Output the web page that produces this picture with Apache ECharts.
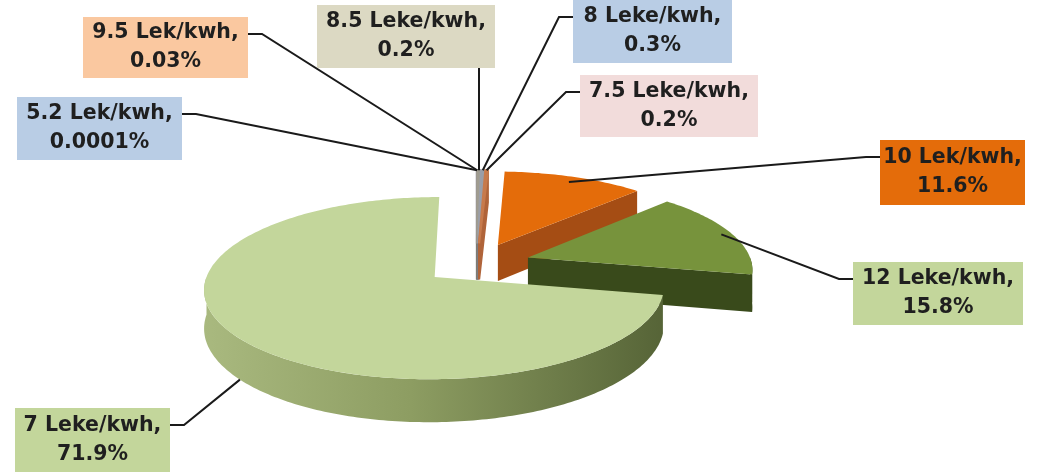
<!DOCTYPE html>
<html>
<head>
<meta charset="utf-8">
<script src="https://cdn.jsdelivr.net/npm/echarts@6/dist/echarts.min.js"></script>
<style>
  html, body { margin: 0; padding: 0; background: #ffffff; }
  #chart { width: 1039px; height: 472px; }
</style>
</head>
<body>
<div id="chart"></div>
<script>
// Electricity tariff bands, listed clockwise from 12 o'clock
const categories = ['5.2 Lek/kwh', '9.5 Lek/kwh', '8.5 Leke/kwh', '8 Leke/kwh', '7.5 Leke/kwh', '10 Lek/kwh', '12 Leke/kwh', '7 Leke/kwh'];
// Share of each band, in percent
const shares = [0.0001, 0.03, 0.2, 0.3, 0.2, 11.6, 15.8, 71.9];

// Slice colours: top face and cut/outer wall
const topColors  = ['#8f96a3', '#9a9690', '#a09c90', '#9a9ea8', '#c77a4c', '#e46c0a', '#77933c', '#c3d69b'];
const sideColors = ['#737985', '#7d7a74', '#7f7c72', '#7b7f89', '#b0643a', '#a54d14', '#394a1b', '#8c9c60'];
// Label box fills
const labelFills = ['#b9cde5', '#fac8a0', '#dcd9c3', '#b9cde5', '#f2dcdb', '#e46c0a', '#c3d69b', '#c3d69b'];

// Label boxes [left, top, width, height], leader side and where the leader meets the slice
const labelLayout = [
  { box: [17, 97, 165, 63],  side: 'right',  anchorR: 1.0,  anchorZ: 0 },
  { box: [83, 17, 165, 61],  side: 'right',  anchorR: 1.0,  anchorZ: 0 },
  { box: [317, 5, 178, 63],  side: 'bottom', anchorR: 1.0,  anchorZ: 0 },
  { box: [573, 0, 159, 63],  side: 'left',   anchorR: 1.0,  anchorZ: 0 },
  { box: [580, 75, 178, 62], side: 'left',   anchorR: 1.0,  anchorZ: 0 },
  { box: [880, 140, 145, 65], side: 'left',  anchorR: 0.92, anchorZ: 0 },
  { box: [853, 262, 170, 63], side: 'left',  anchorR: 0.95, anchorZ: 0 },
  { box: [15, 408, 155, 64], side: 'right',  anchorR: 1.0,  anchorZ: 1 }
];

// Tilted-pie geometry
const CX = 477, CY = 263.6, RX = 224, RY = 86.5, DEPTH = 37, PERSP = 0.12, EXPLODE = 0.24;
const LABEL_FONT = 'bold 20.5px "DejaVu Sans", Verdana, sans-serif';

// Project a point of the pie disk (u to the right, v towards the viewer, z downwards 0..1)
function proj(u, v, z) {
  const f = 1 / (1 - PERSP * v);
  return [CX + RX * u * f, CY + (RY * v + DEPTH * z) * f];
}

// Angular extents (clockwise from 12 o'clock, radians)
const total = shares.reduce((a, b) => a + b, 0);
const slices = [];
{
  let acc = 0;
  shares.forEach((v) => {
    const a0 = acc / total * Math.PI * 2;
    acc += v;
    const a1 = acc / total * Math.PI * 2;
    const m = (a0 + a1) / 2;
    slices.push({ a0, a1, m, ou: EXPLODE * Math.sin(m), ov: -EXPLODE * Math.cos(m) });
  });
}
// Back-to-front drawing rank
const rank = slices.map((s, i) => i).sort((a, b) => slices[a].ov - slices[b].ov);
const rankOf = [];
rank.forEach((idx, r) => { rankOf[idx] = r; });

function pt(s, r, t, z) {
  return proj(s.ou + r * Math.sin(t), s.ov - r * Math.cos(t), z);
}
function arc(s, t0, t1, z) {
  const n = Math.max(2, Math.ceil(Math.abs(t1 - t0) / (Math.PI / 180)));
  const pts = [];
  for (let k = 0; k <= n; k++) pts.push(pt(s, 1, t0 + (t1 - t0) * k / n, z));
  return pts;
}

function renderItem(params, api) {
  const i = params.dataIndex;
  const s = slices[i];
  const base = rankOf[i] * 10;
  const children = [];
  const apexTop = proj(s.ou, s.ov, 0);
  const apexBot = proj(s.ou, s.ov, 1);
  // very thin slices get an outline in their own colour so they stay visible
  const thin = api.value(1) < 1;
  const faceStyle = (c) => thin ? { fill: c, stroke: c, lineWidth: 2.2 } : { fill: c };

  // Outer wall (front half only)
  const w0 = Math.max(s.a0, Math.PI / 2), w1 = Math.min(s.a1, Math.PI * 1.5);
  if (w1 > w0) {
    const pts = arc(s, w0, w1, 0).concat(arc(s, w0, w1, 1).reverse());
    children.push({
      type: 'polygon', z2: base + 1, shape: { points: pts },
      style: {
        fill: i === 7 ? new echarts.graphic.LinearGradient(0, 0, 1, 0, [
          { offset: 0, color: '#a9b97f' }, { offset: 0.45, color: '#8d9d62' }, { offset: 1, color: '#566437' }
        ]) : sideColors[i]
      }
    });
  }
  // Cut faces facing the viewer
  if (Math.sin(s.a0) < 0) {
    children.push({ type: 'polygon', z2: base + 2,
      shape: { points: [apexTop, pt(s, 1, s.a0, 0), pt(s, 1, s.a0, 1), apexBot] },
      style: faceStyle(sideColors[i]) });
  }
  if (Math.sin(s.a1) > 1e-9) {
    children.push({ type: 'polygon', z2: base + 2,
      shape: { points: [apexTop, pt(s, 1, s.a1, 0), pt(s, 1, s.a1, 1), apexBot] },
      style: faceStyle(sideColors[i]) });
  }
  // Top face
  children.push({ type: 'polygon', z2: base + 5,
    shape: { points: [apexTop].concat(arc(s, s.a0, s.a1, 0)) },
    style: faceStyle(topColors[i]) });

  // Leader line and label box
  const L = labelLayout[i];
  const [bx, by, bw, bh] = L.box;
  const anchor = pt(s, L.anchorR, s.m, L.anchorZ);
  let leader;
  if (L.side === 'bottom') {
    leader = [[anchor[0], anchor[1]], [anchor[0], by + bh]];
  } else if (L.side === 'right') {
    const y = by + 17;
    leader = [[bx + bw, y], [bx + bw + 14, y], anchor];
  } else {
    const y = by + 17;
    leader = [[bx, y], [bx - 14, y], anchor];
  }
  children.push({ type: 'polyline', z2: 200, shape: { points: leader },
    style: { stroke: '#1a1a1a', lineWidth: 2, fill: null } });
  children.push({ type: 'rect', z2: 210, shape: { x: bx, y: by, width: bw, height: bh },
    style: { fill: labelFills[i] } });
  children.push({ type: 'text', z2: 220,
    style: {
      text: categories[i] + ',\n' + String(api.value(1)) + '%',
      x: bx + bw / 2, y: by + bh / 2,
      align: 'center', verticalAlign: 'middle',
      font: LABEL_FONT, lineHeight: 29, fill: '#1f1f1f'
    } });

  return { type: 'group', children };
}

const chart = echarts.init(document.getElementById('chart'), null, { renderer: 'canvas' });
chart.setOption({
  backgroundColor: '#ffffff',
  animation: false,
  series: [{
    type: 'custom',
    coordinateSystem: 'none',
    silent: true,
    data: shares.map((v, i) => [i, v]),
    renderItem
  }]
});
</script>
</body>
</html>
